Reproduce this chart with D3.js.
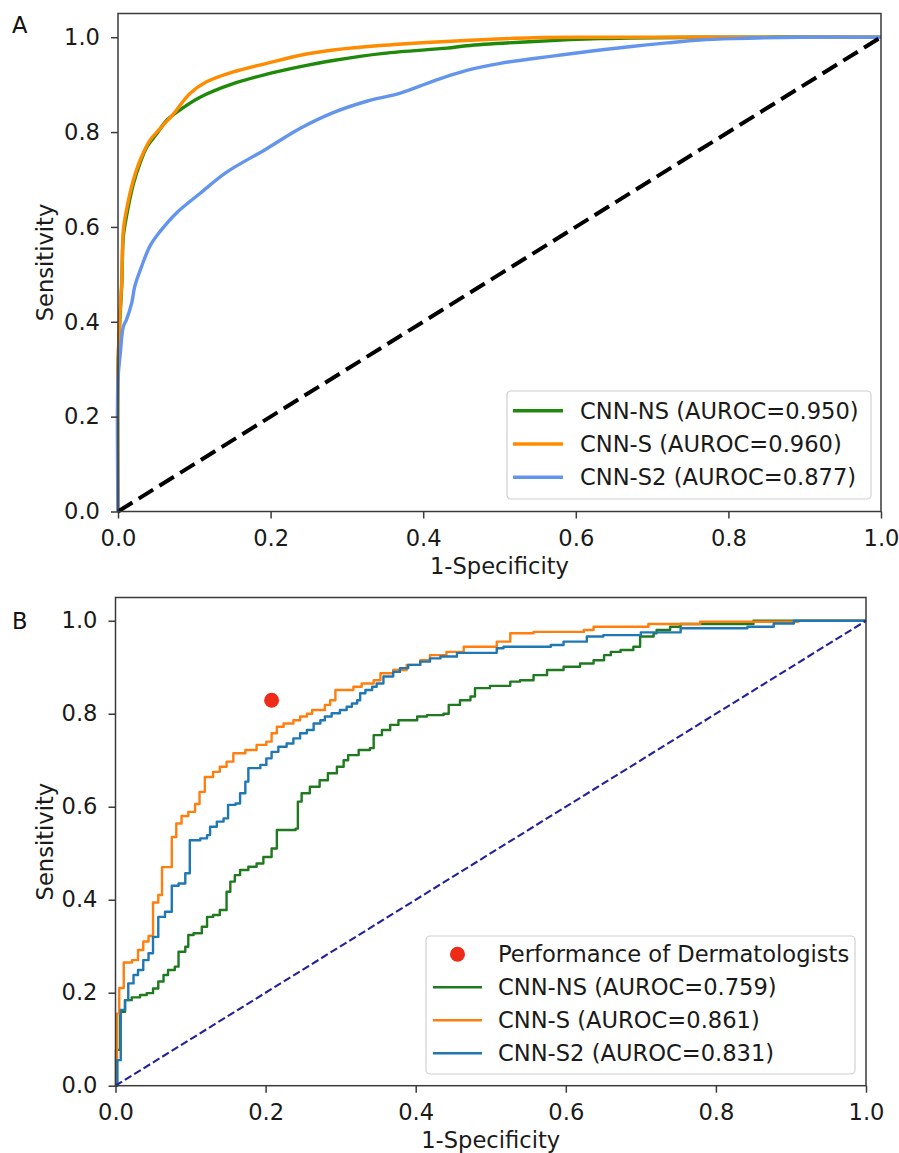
<!DOCTYPE html>
<html><head><meta charset="utf-8">
<script src="https://cdn.jsdelivr.net/npm/d3@7"></script>
<style>body{margin:0;background:#fff} svg text{font-family:"DejaVu Sans",sans-serif;}</style>
</head><body>
<svg id="c" width="899" height="1153"></svg>
<script>
// ---------- data ----------
const tickValues = [0, 0.2, 0.4, 0.6, 0.8, 1.0];
const diagonal = [[0, 0], [1, 1]];

// Panel A (smooth ROC curves): [1-specificity, sensitivity]
const aNS = [[0,0],[0,0.3],[0.002,0.39],[0.005,0.48],[0.007,0.58],[0.012,0.63],[0.02,0.69],[0.029,0.735],[0.038,0.769],[0.051,0.797],[0.064,0.825],[0.086,0.852],[0.107,0.873],[0.151,0.902],[0.195,0.922],[0.239,0.938],[0.282,0.951],[0.348,0.966],[0.431,0.977],[0.457,0.982],[0.545,0.991],[0.632,0.997],[0.76,1.0],[1,1]];
const aS = [[0,0],[0,0.3],[0.002,0.396],[0.005,0.49],[0.007,0.593],[0.011,0.635],[0.02,0.698],[0.029,0.741],[0.042,0.783],[0.055,0.807],[0.073,0.839],[0.094,0.881],[0.116,0.906],[0.151,0.927],[0.195,0.945],[0.239,0.962],[0.282,0.973],[0.348,0.983],[0.431,0.991],[0.545,0.999],[0.63,1.0],[1,1]];
const aS2 = [[0,0],[0,0.278],[0.003,0.333],[0.007,0.39],[0.011,0.404],[0.018,0.44],[0.022,0.475],[0.031,0.517],[0.042,0.56],[0.055,0.59],[0.077,0.63],[0.107,0.67],[0.142,0.715],[0.195,0.765],[0.239,0.808],[0.282,0.841],[0.326,0.865],[0.37,0.882],[0.414,0.908],[0.457,0.93],[0.501,0.945],[0.545,0.955],[0.588,0.964],[0.632,0.973],[0.676,0.981],[0.72,0.988],[0.763,0.994],[0.807,0.997],[0.894,1.0],[1,1]];
const aLabels = ["CNN-NS (AUROC=0.950)", "CNN-S (AUROC=0.960)", "CNN-S2 (AUROC=0.877)"];

// Panel B (step ROC curves)
const bNS = [[0,0],[0.0007,0.077],[0.006,0.159],[0.0127,0.184],[0.0216,0.19],[0.0327,0.195],[0.0416,0.199],[0.05,0.209],[0.057,0.224],[0.064,0.238],[0.07,0.249],[0.079,0.256],[0.084,0.288],[0.093,0.299],[0.097,0.324],[0.104,0.328],[0.115,0.342],[0.122,0.363],[0.13,0.367],[0.139,0.378],[0.148,0.417],[0.153,0.439],[0.159,0.453],[0.166,0.464],[0.177,0.471],[0.188,0.478],[0.197,0.492],[0.208,0.51],[0.215,0.55],[0.24,0.553],[0.243,0.611],[0.248,0.629],[0.259,0.643],[0.272,0.657],[0.283,0.672],[0.295,0.686],[0.304,0.70],[0.31,0.711],[0.324,0.722],[0.339,0.726],[0.344,0.754],[0.355,0.765],[0.366,0.776],[0.377,0.786],[0.402,0.794],[0.415,0.797],[0.437,0.80],[0.444,0.819],[0.459,0.829],[0.473,0.837],[0.479,0.855],[0.499,0.86],[0.526,0.869],[0.539,0.872],[0.557,0.883],[0.575,0.894],[0.597,0.901],[0.619,0.908],[0.637,0.915],[0.651,0.926],[0.66,0.933],[0.673,0.937],[0.69,0.944],[0.699,0.966],[0.717,0.973],[0.721,0.98],[0.739,0.987],[0.753,0.993],[0.85,1.0],[1,1]];
const bS = [[0,0],[0.002,0.155],[0.005,0.21],[0.011,0.265],[0.022,0.27],[0.030,0.292],[0.037,0.31],[0.044,0.322],[0.050,0.394],[0.057,0.41],[0.062,0.47],[0.075,0.535],[0.081,0.564],[0.088,0.58],[0.097,0.589],[0.106,0.606],[0.112,0.632],[0.119,0.664],[0.13,0.675],[0.139,0.686],[0.148,0.697],[0.157,0.715],[0.173,0.722],[0.188,0.733],[0.201,0.74],[0.208,0.758],[0.215,0.772],[0.224,0.779],[0.237,0.786],[0.246,0.794],[0.255,0.80],[0.262,0.808],[0.279,0.819],[0.286,0.829],[0.293,0.851],[0.317,0.858],[0.328,0.865],[0.344,0.872],[0.353,0.887],[0.37,0.894],[0.388,0.905],[0.406,0.915],[0.419,0.926],[0.441,0.933],[0.464,0.944],[0.508,0.955],[0.526,0.973],[0.557,0.976],[0.624,0.98],[0.637,0.987],[0.71,0.993],[0.779,0.998],[0.91,1.0],[1,1]];
const bS2 = [[0,0],[0.0025,0.055],[0.007,0.163],[0.0127,0.184],[0.017,0.22],[0.024,0.238],[0.030,0.249],[0.037,0.27],[0.044,0.285],[0.05,0.32],[0.057,0.363],[0.066,0.374],[0.075,0.43],[0.084,0.435],[0.093,0.457],[0.099,0.528],[0.113,0.532],[0.122,0.539],[0.126,0.557],[0.135,0.568],[0.144,0.575],[0.15,0.604],[0.16,0.607],[0.166,0.629],[0.173,0.654],[0.177,0.683],[0.193,0.69],[0.201,0.704],[0.208,0.718],[0.217,0.729],[0.228,0.736],[0.237,0.747],[0.246,0.758],[0.255,0.765],[0.264,0.779],[0.273,0.786],[0.279,0.794],[0.288,0.801],[0.299,0.808],[0.308,0.815],[0.315,0.822],[0.322,0.829],[0.326,0.844],[0.333,0.851],[0.342,0.858],[0.348,0.865],[0.357,0.88],[0.37,0.89],[0.379,0.898],[0.39,0.905],[0.406,0.912],[0.419,0.919],[0.433,0.923],[0.455,0.931],[0.508,0.941],[0.517,0.944],[0.58,0.948],[0.597,0.955],[0.628,0.966],[0.65,0.969],[0.7,0.975],[0.753,0.984],[0.842,0.987],[0.877,0.994],[0.904,1.0],[1,1]];
const dermatologists = [[0.208, 0.829]];
const bLabels = ["Performance of Dermatologists", "CNN-NS (AUROC=0.759)", "CNN-S (AUROC=0.861)", "CNN-S2 (AUROC=0.831)"];

// ---------- drawing ----------
const svg = d3.select('#c');
const FS = 22.6;
const TXT = '#1a1a1a';
const SPINE = '#3a3a3a';

function drawPanel(p) {
  const x = d3.scaleLinear().domain([0, 1]).range([p.l, p.r]);
  const y = d3.scaleLinear().domain([0, 1.05]).range([p.b, p.t]);
  const g = svg.append('g');
  const line = d3.line().x(d => x(d[0])).y(d => y(d[1])).curve(p.curve);

  p.series.forEach(s => {
    g.append('path').attr('d', line(s.data)).attr('fill', 'none')
      .attr('stroke', s.color).attr('stroke-width', p.lw)
      .attr('stroke-linejoin', 'round').attr('stroke-linecap', 'butt');
  });

  if (p.points) {
    g.selectAll('circle.pt').data(p.points).enter().append('circle')
      .attr('cx', d => x(d[0])).attr('cy', d => y(d[1])).attr('r', 7.5).attr('fill', p.pointColor);
  }

  g.append('path').attr('d', d3.line().x(d => x(d[0])).y(d => y(d[1]))(diagonal))
    .attr('fill', 'none').attr('stroke', p.diagColor).attr('stroke-width', p.diagW)
    .attr('stroke-dasharray', p.diagDash);

  // axes
  const xa = g.append('g').attr('transform', `translate(0,${p.b})`)
    .call(d3.axisBottom(x).tickValues(tickValues).tickFormat(d3.format('.1f')).tickSize(7).tickPadding(11).tickSizeOuter(0));
  const ya = g.append('g').attr('transform', `translate(${p.l},0)`)
    .call(d3.axisLeft(y).tickValues(tickValues).tickFormat(d3.format('.1f')).tickSize(7).tickPadding(11).tickSizeOuter(0));
  [xa, ya].forEach(a => {
    a.select('.domain').remove();
    a.selectAll('line').attr('stroke', SPINE).attr('stroke-width', 1.5);
    a.selectAll('text').attr('font-size', FS).attr('fill', TXT).attr('font-family', 'DejaVu Sans');
  });

  g.append('rect').attr('x', p.l).attr('y', p.t).attr('width', p.r - p.l).attr('height', p.b - p.t)
    .attr('fill', 'none').attr('stroke', SPINE).attr('stroke-width', 1.5);

  g.append('text').attr('x', (p.l + p.r) / 2).attr('y', p.b + 62.5).attr('text-anchor', 'middle')
    .attr('font-size', FS).attr('fill', TXT).text('1-Specificity');
  g.append('text').attr('transform', `translate(53,${(p.t + p.b) / 2}) rotate(-90)`).attr('text-anchor', 'middle')
    .attr('font-size', FS).attr('fill', TXT).text('Sensitivity');
  g.append('text').attr('x', 12).attr('y', p.letterY).attr('font-size', FS).attr('fill', '#111').text(p.letter);

  // legend
  const L = p.legend;
  g.append('rect').attr('x', L.x).attr('y', L.y).attr('width', L.w).attr('height', L.h).attr('rx', 4)
    .attr('fill', '#fff').attr('fill-opacity', 0.8).attr('stroke', '#d0d0d0').attr('stroke-width', 1.2);
  L.items.forEach((it, i) => {
    const ry = L.row0 + i * L.dy;
    if (it.type === 'dot') {
      g.append('circle').attr('cx', (L.lx0 + L.lx1) / 2).attr('cy', ry).attr('r', 7.5).attr('fill', it.color);
    } else {
      g.append('line').attr('x1', L.lx0).attr('x2', L.lx1).attr('y1', ry).attr('y2', ry)
        .attr('stroke', it.color).attr('stroke-width', p.lw);
    }
    g.append('text').attr('x', L.tx).attr('y', ry + 7.8).attr('font-size', FS).attr('fill', TXT).text(it.label);
  });
}

drawPanel({
  l: 118, r: 881, t: 13.5, b: 511.5, lw: 3.4, curve: d3.curveCatmullRom.alpha(0.5),
  series: [
    { data: aNS, color: '#1f8a0a' },
    { data: aS, color: '#ff8c00' },
    { data: aS2, color: '#6495ed' }
  ],
  diagColor: '#000', diagW: 4, diagDash: '17,7.4',
  letter: 'A', letterY: 33,
  legend: {
    x: 507, y: 391, w: 364, h: 108, row0: 410.7, dy: 33.3, lx0: 513, lx1: 563, tx: 580,
    items: [
      { type: 'line', color: '#1f8a0a', label: aLabels[0] },
      { type: 'line', color: '#ff8c00', label: aLabels[1] },
      { type: 'line', color: '#6495ed', label: aLabels[2] }
    ]
  }
});

drawPanel({
  l: 115.5, r: 866, t: 597.5, b: 1085.7, lw: 2.4, curve: d3.curveStepAfter,
  series: [
    { data: bNS, color: '#1f7a1f' },
    { data: bS, color: '#ff7f0e' },
    { data: bS2, color: '#1f77b4' }
  ],
  points: dermatologists, pointColor: '#ee2a18',
  diagColor: '#22229a', diagW: 2.1, diagDash: '7.7,3.3',
  letter: 'B', letterY: 629,
  legend: {
    x: 426, y: 936, w: 429, h: 138, row0: 954.3, dy: 33, lx0: 433, lx1: 482, tx: 498,
    items: [
      { type: 'dot', color: '#ee2a18', label: bLabels[0] },
      { type: 'line', color: '#1f7a1f', label: bLabels[1] },
      { type: 'line', color: '#ff7f0e', label: bLabels[2] },
      { type: 'line', color: '#1f77b4', label: bLabels[3] }
    ]
  }
});
</script>
</body></html>
